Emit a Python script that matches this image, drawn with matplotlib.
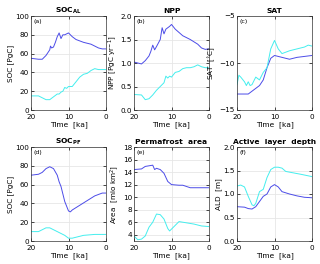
import matplotlib
matplotlib.use('Agg')
import matplotlib.pyplot as plt

BLUE = '#4c4ce8'
CYAN = '#44eeee'

# --- data (time in ka) ---
t_soc_al_b = [20, 18, 17, 16, 15, 14.8, 14.5, 14, 13.5, 13, 12.5, 12, 11.5, 11, 10.5, 10, 9, 8, 6, 4, 2, 1, 0]
soc_al_b = [55, 54, 54, 58, 64, 68, 66, 67, 72, 78, 82, 76, 80, 80, 81, 82, 78, 75, 72, 70, 66, 65, 65]
t_soc_al_c = [20, 18, 17, 16, 15, 14, 13, 12.5, 12, 11.5, 11, 10.5, 10, 9, 8, 7, 6, 5, 4, 3, 2, 1, 0]
soc_al_c = [15, 15, 13, 11, 11, 14, 17, 17, 19, 20, 24, 23, 25, 25, 30, 35, 38, 39, 42, 44, 43, 43, 43]

t_npp_b = [20, 18, 17, 16, 15.5, 15, 14.5, 14, 13, 12.5, 12, 11.5, 11, 10.5, 10, 9, 7, 5, 3, 2, 1, 0]
npp_b = [1.02, 0.98, 1.05, 1.15, 1.25, 1.38, 1.28, 1.35, 1.5, 1.75, 1.62, 1.72, 1.75, 1.78, 1.82, 1.72, 1.58, 1.50, 1.40, 1.32, 1.29, 1.30]
t_npp_c = [20, 18, 17, 16, 15, 14, 13, 12, 11.5, 11, 10.5, 10, 9, 8, 7, 6, 5, 4, 3, 2, 1, 0]
npp_c = [0.33, 0.32, 0.22, 0.24, 0.32, 0.42, 0.5, 0.58, 0.72, 0.68, 0.72, 0.7, 0.8, 0.82, 0.88, 0.9, 0.9, 0.92, 0.96, 0.92, 0.90, 0.90]

t_sat_b = [20, 17, 16, 15, 14, 13, 12, 11, 10, 8, 6, 4, 2, 0]
sat_b = [-13.3, -13.3, -13.0, -12.7, -12.4, -11.8, -10.5, -9.5, -9.2, -9.4, -9.6, -9.4, -9.3, -9.2]
t_sat_c = [20, 19.5, 19, 18, 17.5, 17, 16.5, 16, 15, 14, 13, 12, 11, 10, 9, 8, 6, 4, 2, 1, 0]
sat_c = [-12.3, -11.3, -11.5, -12.0, -12.4, -12.0, -12.4, -12.3, -11.5, -11.8, -11.0, -10.5, -8.5, -7.6, -8.5, -9.0, -8.7, -8.5, -8.3, -8.1, -8.2]

t_soc_pf_b = [20, 18, 17, 16, 15, 14, 13, 12.5, 12, 11, 10, 9.5, 9, 7, 5, 3, 1, 0]
soc_pf_b = [70, 71, 73, 77, 79, 77, 70, 63, 58, 42, 32, 31, 33, 38, 43, 48, 51, 51]
t_soc_pf_c = [20, 18, 16, 15, 14, 13, 12, 11, 10, 9, 8, 6, 3, 0]
soc_pf_c = [10, 10, 14, 14, 12, 10, 8, 6, 3, 3, 4, 6, 7, 7]

t_area_b = [20, 18, 17, 16, 15, 14.5, 14, 13, 12, 11, 10, 8, 7, 6, 5, 3, 0]
area_b = [14.4, 14.5, 14.9, 15.0, 15.1, 14.4, 14.6, 14.4, 13.8, 12.5, 12.0, 11.9, 11.9, 11.7, 11.5, 11.5, 11.5]
t_area_c = [20, 19, 18, 17, 16, 15, 14, 13, 12, 11, 10.5, 10, 9, 8, 6, 4, 2, 0]
area_c = [3.8, 3.2, 3.3, 3.8, 5.2, 6.0, 7.3, 7.2, 6.5, 5.0, 4.6, 4.9, 5.5, 6.1, 5.9, 5.7, 5.4, 5.3]

t_ald_b = [20, 18, 17, 16, 15, 14, 13, 12, 11, 10, 9, 8, 6, 4, 2, 0]
ald_b = [0.73, 0.72, 0.69, 0.68, 0.73, 0.84, 0.95, 1.0, 1.15, 1.2, 1.15, 1.05, 1.0, 0.96, 0.93, 0.92]
t_ald_c = [20, 19, 18, 17, 16, 15.5, 15, 14, 13, 12, 11, 10, 9, 8, 7, 5, 3, 0]
ald_c = [1.17, 1.19, 1.15, 0.95, 0.77, 0.75, 0.8, 1.05, 1.1, 1.35, 1.52, 1.57, 1.57, 1.55, 1.48, 1.45, 1.42, 1.37]

# --- panel definitions ---
panels = [
    dict(title=r'SOC$_{\mathbf{AL}}$', tag='(a)', ylabel='SOC [PgC]', ylim=(0, 100), yticks=[0, 20, 40, 60, 80, 100],
         blue=(t_soc_al_b, soc_al_b), cyan=(t_soc_al_c, soc_al_c)),
    dict(title='NPP', tag='(b)', ylabel=r'NPP [PgC yr$^{-1}$]', ylim=(0, 2), yticks=[0, 0.5, 1, 1.5, 2],
         blue=(t_npp_b, npp_b), cyan=(t_npp_c, npp_c)),
    dict(title='SAT', tag='(c)', ylabel=r'SAT  [$^{\circ}$C]', ylim=(-15, -5), yticks=[-15, -10, -5],
         blue=(t_sat_b, sat_b), cyan=(t_sat_c, sat_c)),
    dict(title=r'SOC$_{\mathbf{PF}}$', tag='(d)', ylabel='SOC [PgC]', ylim=(0, 100), yticks=[0, 20, 40, 60, 80, 100],
         blue=(t_soc_pf_b, soc_pf_b), cyan=(t_soc_pf_c, soc_pf_c)),
    dict(title='Permafrost  area', tag='(e)', ylabel=r'Area  [mio km$^2$]', ylim=(3, 18), yticks=[4, 6, 8, 10, 12, 14, 16, 18],
         blue=(t_area_b, area_b), cyan=(t_area_c, area_c)),
    dict(title='Active  layer  depth', tag='(f)', ylabel='ALD  [m]', ylim=(0, 2), yticks=[0, 0.5, 1, 1.5, 2],
         blue=(t_ald_b, ald_b), cyan=(t_ald_c, ald_c)),
]

plt.rcParams['font.family'] = 'DejaVu Sans'
plt.rcParams['mathtext.fontset'] = 'dejavusans'

fig = plt.figure(figsize=(3.2, 2.64), dpi=100)
W, H = 320.0, 264.0
lefts = [31, 134, 237]
tops = [16, 147]
aw, ah = 75, 94

for i, p in enumerate(panels):
    row, col = divmod(i, 3)
    x0 = lefts[col]
    y0 = tops[row]
    ax = fig.add_axes([x0 / W, 1 - (y0 + ah) / H, aw / W, ah / H])
    ax.plot(*p['blue'], color=BLUE, lw=0.7)
    ax.plot(*p['cyan'], color=CYAN, lw=0.7)
    ax.set_xlim(20, 0)
    ax.set_xticks([20, 10, 0])
    ax.set_ylim(*p['ylim'])
    ax.set_yticks(p['yticks'])
    ax.grid(True, color='#e6e6e6', lw=0.6)
    ax.set_axisbelow(True)
    ax.tick_params(direction='in', length=2, width=0.5, labelsize=5.2, pad=1.5, top=True, right=True)
    ax.tick_params(axis='x', pad=3)
    for s in ax.spines.values():
        s.set_linewidth(0.5)
        s.set_color('#333333')
    ax.set_title(p['title'], fontsize=5.4, fontweight='bold', pad=2)
    ax.set_ylabel(p['ylabel'], fontsize=5.2, labelpad=1)
    ax.set_xlabel('Time  [ka]', fontsize=5.4, labelpad=1)
    ax.text(0.03, 0.97, p['tag'], transform=ax.transAxes, fontsize=4.5, va='top', ha='left')

fig.savefig('out.png', dpi=100)
